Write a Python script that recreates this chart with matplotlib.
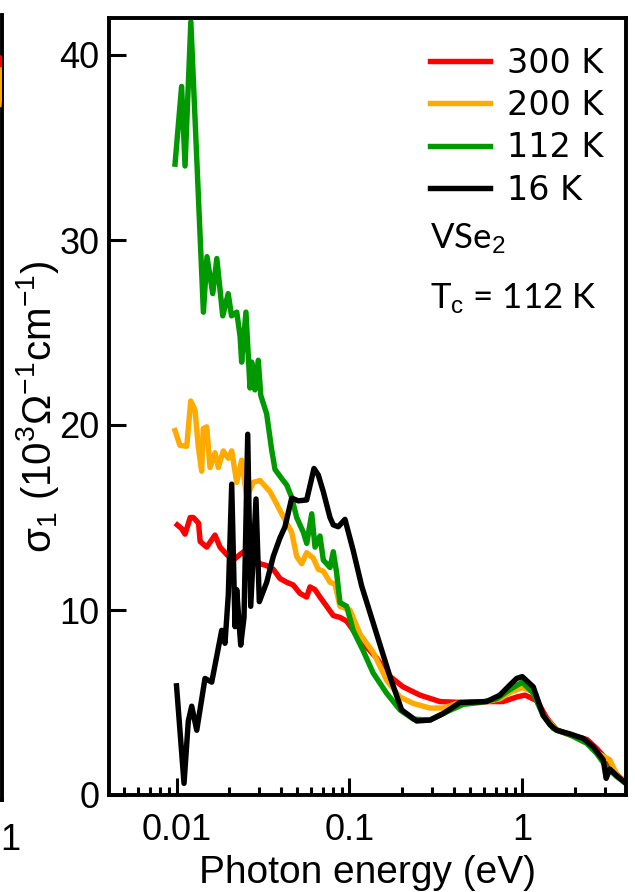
import numpy as np
import matplotlib
matplotlib.use('Agg')
import matplotlib.pyplot as plt
from matplotlib.ticker import FixedLocator, NullFormatter, NullLocator, LogLocator

plt.rcParams['font.family'] = 'Liberation Sans'
plt.rcParams['mathtext.fontset'] = 'custom'
plt.rcParams['mathtext.rm'] = 'Liberation Sans'
plt.rcParams['mathtext.it'] = 'Liberation Sans:italic'
plt.rcParams['mathtext.bf'] = 'Liberation Sans:bold'


### optical conductivity of VSe2, photon energy (eV) vs sigma_1 (10^3 Ohm^-1 cm^-1)

# 300 K
e_300 = [0.0101, 0.0107, 0.0112, 0.0120, 0.0125, 0.0134, 0.0137, 0.01495, 0.01669,
         0.01784, 0.0195, 0.02129, 0.02328, 0.02489, 0.02721, 0.0304, 0.03322,
         0.03627, 0.03965, 0.04335, 0.04733, 0.05174, 0.05657, 0.05911, 0.06317,
         0.06752, 0.07382, 0.08061, 0.08812, 0.09634, 0.1052, 0.1202, 0.1436,
         0.1669, 0.2038, 0.2556, 0.3335, 0.4529, 0.6233, 0.7713, 0.9294, 1.034,
         1.213, 1.385, 1.583, 1.882, 2.36, 2.696, 3.079, 3.518, 4.0]
s_300 = [14.6, 14.4, 14.1, 15.0, 15.0, 14.7, 13.7, 13.4, 14.05,
         13.4, 13.0, 12.7, 13.0, 13.2, 12.9, 12.5, 12.4,
         12.2, 11.7, 11.5, 11.35, 10.9, 10.7, 11.25, 11.1,
         10.7, 10.2, 9.7, 9.6, 9.4, 8.9, 8.2, 7.4,
         6.5, 5.85, 5.4, 5.05, 5.0, 5.05, 5.05, 5.3, 5.4,
         5.1, 4.15, 3.5, 3.25, 3.0, 2.5, 1.9, 1.1, 0.65]

# 200 K
e_200 = [0.0098, 0.01047, 0.01146, 0.01208, 0.01279, 0.01337, 0.01398, 0.01428,
         0.01495, 0.01562, 0.01669, 0.01744, 0.01864, 0.01992, 0.02085, 0.02228,
         0.02381, 0.02546, 0.02779, 0.0304, 0.03248, 0.03471, 0.0371, 0.04056,
         0.04335, 0.04634, 0.04951, 0.05293, 0.05657, 0.06176, 0.06601, 0.07056,
         0.07715, 0.08245, 0.08812, 0.1007, 0.115, 0.1373, 0.1641, 0.1957, 0.2337,
         0.292, 0.3485, 0.4165, 0.6208, 0.741, 0.847, 0.997, 1.155, 1.319, 1.576,
         1.882, 2.35, 2.685, 3.205, 3.504, 4.0]
s_200 = [19.7, 18.9, 18.85, 21.3, 20.8, 18.8, 17.5, 19.8,
         19.9, 17.7, 18.5, 17.7, 18.6, 18.2, 18.6, 16.9,
         18.1, 16.1, 16.9, 17.0, 16.7, 16.4, 15.9, 15.2,
         14.7, 14.2, 12.9, 12.5, 13.1, 12.8, 12.2, 12.1,
         11.5, 11.4, 10.2, 10.0, 8.7, 7.7, 6.2, 5.3, 4.95,
         4.7, 4.7, 4.95, 5.05, 5.2, 5.55, 5.8, 5.6, 4.3, 3.5,
         3.3, 2.9, 2.3, 1.9, 1.1, 0.65]

# 112 K
e_112 = [0.0098, 0.0107, 0.0112, 0.0121, 0.0143, 0.0150, 0.0162, 0.0171, 0.0185,
         0.0199, 0.0208, 0.0223, 0.0233, 0.0238, 0.0252, 0.0266, 0.0272, 0.0284,
         0.0297, 0.0307, 0.0332, 0.0355, 0.0371, 0.0406, 0.0434, 0.0463, 0.0495,
         0.0541, 0.0566, 0.0605, 0.0632, 0.0675, 0.0706, 0.0772, 0.0806, 0.0843,
         0.0881, 0.0963, 0.105, 0.120, 0.137, 0.164, 0.196, 0.234, 0.292, 0.365,
         0.455, 0.568, 0.710, 0.847, 0.997, 1.155, 1.319, 1.507, 1.882, 2.35,
         2.685, 3.067, 3.504, 4.0]
s_112 = [34.1, 38.3, 34.0, 41.8, 26.1, 29.1, 27.1, 29.0, 25.9,
         27.1, 25.9, 26.1, 24.8, 23.4, 26.1, 22.0, 23.4, 21.9,
         23.5, 21.6, 20.6, 18.65, 17.6, 17.1, 16.75, 16.1, 15.0,
         14.2, 13.6, 15.2, 13.4, 14.0, 12.7, 12.3, 13.15, 12.0,
         10.4, 10.2, 8.9, 7.8, 6.6, 5.5, 4.6, 4.1, 4.05, 4.5,
         4.9, 5.0, 5.2, 5.7, 6.1, 5.5, 4.3, 3.6, 3.25, 2.8,
         2.25, 1.5, 1.0, 0.6]

# 16 K
e_16 = [0.0100, 0.01105, 0.0117, 0.01224, 0.01309, 0.01461, 0.01598, 0.01708,
        0.01825, 0.01906, 0.01992, 0.02085, 0.02179, 0.02228, 0.0235, 0.02456,
        0.0258, 0.02685, 0.02881, 0.03011, 0.03322, 0.03627, 0.03965, 0.04238,
        0.04634, 0.05058, 0.05657, 0.06233, 0.06601, 0.07056, 0.07715, 0.08061,
        0.08615, 0.09419, 0.1052, 0.1176, 0.1436, 0.1714, 0.2002, 0.2446, 0.292,
        0.3485, 0.4352, 0.6208, 0.741, 0.8467, 0.9258, 0.9973, 1.1546, 1.3193,
        1.442, 1.576, 1.882, 2.246, 2.566, 2.931, 3.05, 3.2, 3.504, 4.0]
s_16 = [5.9, 0.63, 4.0, 4.8, 3.5, 6.3, 6.1, 7.5,
        8.9, 8.2, 10.8, 16.8, 9.1, 11.1, 8.1, 9.6,
        19.5, 10.2, 16.0, 10.45, 11.5, 12.9, 13.9, 14.5,
        16.05, 15.9, 15.95, 17.65, 17.3, 16.4, 15.0, 14.6,
        14.5, 14.9, 13.2, 11.3, 8.7, 6.4, 4.6, 4.0, 4.05,
        4.4, 5.0, 5.05, 5.4, 5.95, 6.3, 6.4, 5.85, 4.3,
        3.8, 3.5, 3.3, 3.06, 2.6, 1.9, 0.9, 1.4, 1.05, 0.6]

labels = ['300 K', '200 K', '112 K', '16 K']
colors = ['#ff0000', '#ffaa00', '#009a00', '#000000']

# neighbouring panel, only its right edge is in frame
e_left = [0.97, 1.0]
r_left_300 = [0.90, 0.945]
r_left_200 = [0.88, 0.93]


### Figure
fig = plt.figure(figsize=(6.35, 8.92), dpi=100)

ax0 = fig.add_axes([(2 - 517) / 635, 92 / 892, 517 / 635, 785 / 892])
ax0.set_xscale('log')
ax0.set_xlim(0.01, 1)
ax0.set_ylim(0, 1)
ax0.plot(e_left, r_left_300, color=colors[0], lw=3.9, zorder=3)
ax0.plot(e_left, r_left_200, color=colors[1], lw=3.9, zorder=3)
for side in ['left', 'top']:
    ax0.spines[side].set_visible(False)
for side in ['right', 'bottom']:
    ax0.spines[side].set_linewidth(2.8)
ax0.xaxis.set_major_locator(NullLocator())
ax0.xaxis.set_minor_locator(NullLocator())
ax0.yaxis.set_major_locator(NullLocator())
# last tick label of that panel
fig.text(0.0, 1 - 840 / 892, '1', ha='left', va='center', fontsize=26)

ax = fig.add_axes([109 / 635, 97 / 892, 517 / 635, 777 / 892])
data = [(e_300, s_300), (e_200, s_200), (e_112, s_112), (e_16, s_16)]
for (e, s), c, lab in zip(data, colors, labels):
    ax.plot(e, s, color=c, linewidth=3.9, label=lab)

ax.set_xscale('log')
ax.set_xlim(0.00407, 3.97)
ax.set_ylim(0, 42)
ax.xaxis.set_major_locator(FixedLocator([0.01, 0.1, 1]))
ax.set_xticklabels(['0.01', '0.1', '1'])
ax.xaxis.set_minor_locator(LogLocator(base=10, subs=np.arange(2, 10)))
ax.xaxis.set_minor_formatter(NullFormatter())
ax.yaxis.set_major_locator(FixedLocator([0, 10, 20, 30, 40]))
ax.yaxis.set_minor_locator(NullLocator())
ax.tick_params(which='both', direction='in', width=2.2, labelsize=26,
               top=False, right=False)
ax.tick_params(which='major', length=12)
ax.tick_params(which='minor', length=5.5)
ax.tick_params(axis='x', pad=13)
ax.tick_params(axis='y', pad=7)
for side in ax.spines:
    ax.spines[side].set_linewidth(2.8)

ax.set_xlabel('Photon energy (eV)', fontsize=28, labelpad=5)
ax.set_ylabel('σ$_1$ (10$^3$Ω$^{-1}$cm$^{-1}$)', fontsize=29)
ax.yaxis.set_label_coords(-0.093, 0.5)

ax.legend(loc='upper left', bbox_to_anchor=(0.621, 0.963), frameon=False,
          prop={'family': 'DejaVu Sans', 'size': 24},
          handlelength=1.8, handletextpad=0.5,
          labelspacing=0.28, borderpad=0, borderaxespad=0)

ax.text(0.621, 0.704, 'VSe$_\\mathrm{2}$', family='Lato', fontsize=25,
        transform=ax.transAxes, va='baseline')
ax.text(0.621, 0.626, 'T$_\\mathrm{c}$ = 112 K', family='Lato', fontsize=25,
        transform=ax.transAxes, va='baseline')

fig.savefig('out.png', dpi=100)
